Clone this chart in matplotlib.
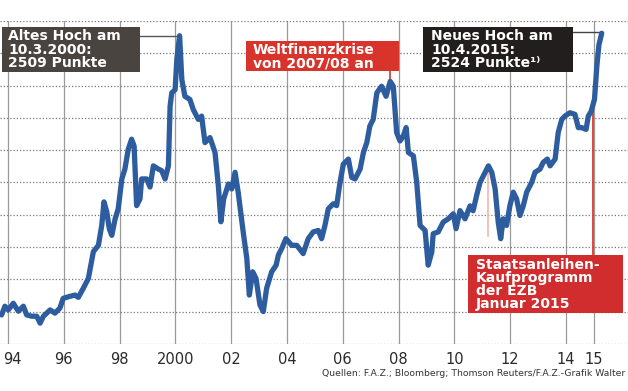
import numpy as np
import matplotlib
matplotlib.use("Agg")
import matplotlib.pyplot as plt
from matplotlib.patches import Rectangle
from matplotlib.transforms import ScaledTranslation

# ---- data ----
years = [1993.77, 1993.89, 1994.01, 1994.19, 1994.37, 1994.55, 1994.67, 1994.85, 1995.03, 1995.15,
         1995.27, 1995.51, 1995.68, 1995.86, 1995.98, 1996.22, 1996.40, 1996.52, 1996.70, 1996.88,
         1997.06, 1997.24, 1997.36, 1997.44, 1997.54, 1997.63, 1997.72, 1997.84, 1997.95, 1998.08,
         1998.19, 1998.31, 1998.43, 1998.52, 1998.61, 1998.73, 1998.79, 1998.97, 1999.09, 1999.21,
         1999.39, 1999.51, 1999.63, 1999.75, 1999.81, 1999.87, 1999.99, 2000.05, 2000.15, 2000.23,
         2000.34, 2000.52, 2000.64, 2000.82, 2000.94, 2001.06, 2001.24, 2001.42, 2001.54, 2001.63,
         2001.73, 2001.90, 2002.02, 2002.14, 2002.25, 2002.43, 2002.56, 2002.65, 2002.77, 2002.89,
         2003.03, 2003.15, 2003.27, 2003.45, 2003.61, 2003.69, 2003.81, 2003.96, 2004.17, 2004.35,
         2004.58, 2004.76, 2004.94, 2005.12, 2005.24, 2005.36, 2005.48, 2005.66, 2005.78, 2005.90,
         2006.02, 2006.20, 2006.32, 2006.44, 2006.62, 2006.74, 2006.86, 2006.97, 2007.09, 2007.22,
         2007.39, 2007.55, 2007.70, 2007.81, 2007.93, 2008.05, 2008.17, 2008.27, 2008.35, 2008.53,
         2008.65, 2008.77, 2008.95, 2009.06, 2009.19, 2009.24, 2009.42, 2009.60, 2009.78, 2009.96,
         2010.06, 2010.20, 2010.38, 2010.56, 2010.67, 2010.81, 2010.92, 2011.10, 2011.22, 2011.34,
         2011.46, 2011.57, 2011.66, 2011.75, 2011.87, 2011.99, 2012.11, 2012.23, 2012.35, 2012.47,
         2012.59, 2012.77, 2012.89, 2013.07, 2013.18, 2013.33, 2013.43, 2013.61, 2013.72, 2013.85,
         2013.96, 2014.14, 2014.32, 2014.44, 2014.56, 2014.72, 2014.80, 2014.90, 2015.02, 2015.11,
         2015.18, 2015.28]
values = [780, 834, 811, 852, 803, 834, 780, 772, 772, 729,
          772, 811, 791, 822, 883, 895, 903, 889, 945, 1006,
          1172, 1211, 1334, 1480, 1418, 1314, 1273, 1375, 1437, 1622,
          1683, 1806, 1868, 1826, 1457, 1498, 1622, 1622, 1572, 1703,
          1683, 1673, 1622, 1703, 2073, 2155, 2175, 2360, 2509, 2237,
          2134, 2114, 2052, 1991, 2011, 1847, 1878, 1786, 1580, 1357,
          1498, 1591, 1560, 1663, 1540, 1294, 1129, 903, 1047, 1006,
          842, 801, 945, 1047, 1088, 1150, 1191, 1252, 1211, 1211,
          1160, 1252, 1294, 1303, 1252, 1334, 1437, 1468, 1457, 1601,
          1714, 1745, 1632, 1622, 1683, 1786, 1847, 1950, 1991, 2155,
          2196, 2134, 2226, 2196, 1909, 1857, 1888, 1940, 1786, 1765,
          1601, 1334, 1303, 1088, 1170, 1283, 1294, 1355, 1375, 1406,
          1314, 1426, 1375, 1455, 1425, 1529, 1601, 1663, 1703, 1663,
          1560, 1355, 1252, 1375, 1334, 1457, 1540, 1498, 1396, 1457,
          1540, 1601, 1663, 1683, 1724, 1745, 1703, 1745, 1909, 1991,
          2011, 2032, 2022, 1940, 1940, 1929, 2011, 2040, 2114, 2329,
          2452, 2524]

tick_years = [1994, 1996, 1998, 2000, 2002, 2004, 2006, 2008, 2010, 2012, 2014, 2015]
tick_labels = ["94", "96", "98", "2000", "02", "04", "06", "08", "10", "12", "14", "15"]

old_high_year, old_high_value = 2000.15, 2509
new_high_year, new_high_value = 2015.28, 2524
crisis_peak_year = 2007.70
ecb_year = 2014.96

txt_old = "Altes Hoch am\n10.3.2000:\n2509 Punkte"
txt_crisis = "Weltfinanzkrise\nvon 2007/08 an"
txt_new = "Neues Hoch am\n10.4.2015:\n2524 Punkte\u00b9\u207e"
txt_ecb = "Staatsanleihen-\nKaufprogramm\nder EZB\nJanuar 2015"
source = "Quellen: F.A.Z.; Bloomberg; Thomson Reuters/F.A.Z.-Grafik Walter"

# ---- figure ----
W, H = 628, 391
fig = plt.figure(figsize=(W / 100, H / 100), dpi=100)
fig.patch.set_facecolor("white")
ax = fig.add_axes([0, 47 / H, 1, 323 / H])
px_per_year = 27.9
x0 = 1994 - 8 / px_per_year
ax.set_xlim(x0, x0 + W / px_per_year)
ax.set_ylim(600, 2600)

for s in ax.spines.values():
    s.set_visible(False)
ax.set_yticks(np.arange(600, 2601, 200))
ax.set_yticklabels([])
ax.set_xticks(tick_years)
ax.set_xticklabels(tick_labels, fontsize=10.5, color="#2a2a2a")
ax.tick_params(axis="both", length=0)
ax.tick_params(axis="x", pad=6)
ax.yaxis.grid(True, linestyle=(0, (1, 1.6)), color="#777777", lw=0.9)
ax.xaxis.grid(True, linestyle="-", color="#9a9a9a", lw=0.9)
ax.set_axisbelow(True)

# shift first tick label slightly right (it sits at the left edge)
first = ax.get_xticklabels()[0]
first.set_transform(first.get_transform() + ScaledTranslation(4 / 100, 0, fig.dpi_scale_trans))

blue = "#2d5c9f"
ax.plot(years, values, color=blue, lw=3.8, solid_joinstyle="round",
        solid_capstyle="round", zorder=4)

# faint highlight line seen on the print
v2011 = np.interp(2011.22, years, values)
ax.plot([2011.22, 2011.22], [1270, v2011], color="#f2b7a8", lw=1.2, zorder=3)

# ---- annotation boxes ----
dark1 = "#4a4441"
red = "#d8342c"
dark2 = "#221e1d"
red2 = "#d12d2f"

def box(xa, xb, ya, yb, color):
    ax.add_patch(Rectangle((xa, yb), xb - xa, ya - yb, facecolor=color,
                           edgecolor="none", zorder=5))

fs = 10
tkw = dict(color="white", fontsize=fs, fontweight="bold", ha="left", va="top",
           linespacing=0.92, zorder=6)

# old high
box(1993.77, 1998.73, 2563, 2286, dark1)
ax.text(1994.0, 2548, txt_old, **tkw)
ax.plot([1998.73, old_high_year], [old_high_value, old_high_value],
        color="#555555", lw=1.0, zorder=3)

# crisis
box(2002.52, 2008.01, 2479, 2288, red)
ax.text(2002.78, 2463, txt_crisis, **tkw)
crisis_val = np.interp(crisis_peak_year, years, values)
ax.plot([crisis_peak_year, crisis_peak_year], [2288, crisis_val],
        color=red, lw=1.2, zorder=3)

# new high
box(2008.87, 2014.25, 2563, 2286, dark2)
ax.text(2009.16, 2548, txt_new, **tkw)
ax.plot([2014.25, new_high_year], [new_high_value + 5, new_high_value + 5],
        color="#444444", lw=1.0, zorder=3)

# ECB
box(2010.49, 2016.05, 1148, 791, red2)
ax.text(2010.77, 1132, txt_ecb, color="white", fontsize=fs, fontweight="bold",
        ha="left", va="top", linespacing=0.9, zorder=6)
ecb_val = np.interp(ecb_year, years, values)
ax.plot([ecb_year, ecb_year], [1148, ecb_val], color="#e0392b", lw=1.3, zorder=3)

fig.text(625 / W, 1 - 374 / H, source, fontsize=6.7, color="#333333",
         ha="right", va="center")

fig.savefig("out.png", dpi=100, facecolor="white")
